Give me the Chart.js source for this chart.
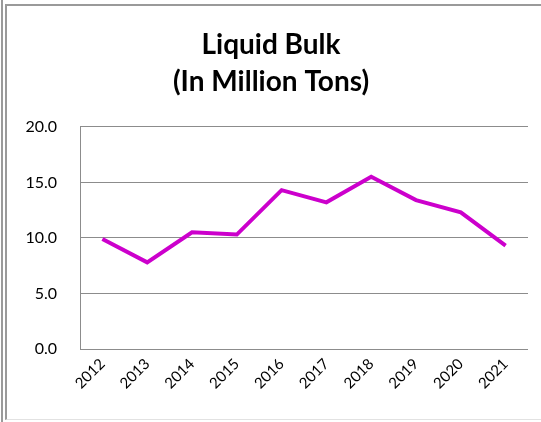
<!DOCTYPE html>
<html>
<head>
<meta charset="utf-8">
<script src="https://cdn.jsdelivr.net/npm/chart.js@4"></script>
<style>
  html, body { margin: 0; padding: 0; background: #fff; }
  #wrap { position: relative; width: 541px; height: 422px; overflow: hidden; }
  #outer-line { position: absolute; left: 1px; top: 0; width: 2px; height: 422px; background: #9a9a9a; }
  #frame {
    position: absolute; left: 5px; top: 4px; width: 536px; height: 416px;
    border-left: 2px solid #9a9a9a; border-top: 2px solid #9a9a9a;
    border-bottom: 1px solid #e2e2e2; box-sizing: border-box;
  }
  /* canvas shifted right so the title centres over the frame */
  canvas { position: absolute; left: 14px; top: 0; }
</style>
</head>
<body>
<div id="wrap">
  <div id="outer-line"></div>
  <div id="frame"></div>
  <canvas id="chart" width="527" height="422"></canvas>
</div>
<script>
// Liquid bulk tonnage by year (million tons)
const years = ["2012", "2013", "2014", "2015", "2016", "2017", "2018", "2019", "2020", "2021"];
const liquidBulk = [9.9, 7.8, 10.5, 10.3, 14.3, 13.2, 15.5, 13.4, 12.3, 9.3];
const titleLines = ["Liquid Bulk", "(In Million Tons)"];

const FONT = "Lato, 'Open Sans', 'DejaVu Sans', sans-serif";
const GRID = "#8c8c8c";

new Chart(document.getElementById("chart"), {
  type: "line",
  data: {
    labels: years,
    datasets: [{
      label: "Liquid Bulk",
      data: liquidBulk,
      borderColor: "#cc00cc",
      backgroundColor: "#cc00cc",
      borderWidth: 4,
      pointRadius: 0,
      tension: 0,
      fill: false,
    }],
  },
  options: {
    responsive: false,
    animation: false,
    layout: { padding: { left: 0, right: 13, top: 0, bottom: 0 } },
    plugins: {
      legend: { display: false },
      tooltip: { enabled: false },
      title: {
        display: true,
        text: titleLines,
        color: "#000",
        font: { family: FONT, size: 28, weight: "bold", lineHeight: 1.3 },
        padding: { top: 27, bottom: 27 },
      },
    },
    scales: {
      x: {
        offset: true,
        afterFit: (s) => { s.height = 73; },
        grid: { display: false, drawTicks: false },
        border: { display: false },
        ticks: {
          color: "#000",
          font: { family: FONT, size: 15 },
          minRotation: 45,
          maxRotation: 45,
          padding: 6,
        },
      },
      y: {
        min: 0,
        max: 20,
        afterFit: (s) => { s.width = 66; },
        grid: { color: GRID, lineWidth: 1, drawTicks: false },
        border: { display: true, color: GRID, width: 1 },
        ticks: {
          stepSize: 5,
          color: "#000",
          font: { family: FONT, size: 16 },
          padding: 23,
          callback: (v) => Number(v).toFixed(1),
        },
      },
    },
  },
});
</script>
</body>
</html>
